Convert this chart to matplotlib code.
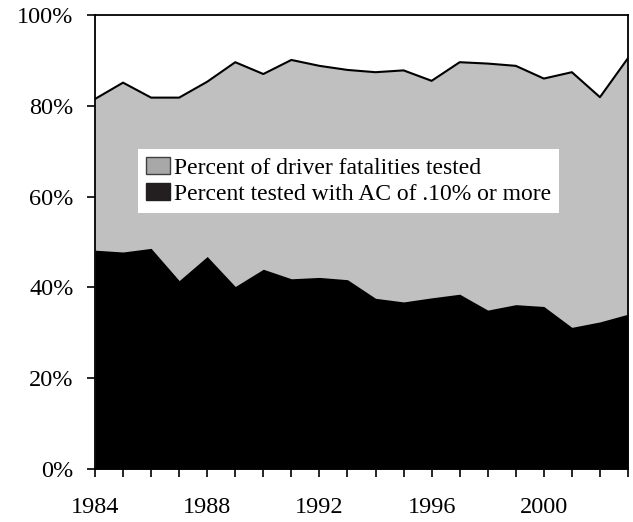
import matplotlib
matplotlib.use("Agg")
import matplotlib.pyplot as plt
from matplotlib.patches import Patch

years = list(range(1984, 2004))
pct_tested = [81.5, 85.1, 81.8, 81.8, 85.3, 89.6, 87.0, 90.1, 88.8, 87.9,
              87.4, 87.8, 85.5, 89.6, 89.3, 88.8, 86.0, 87.4, 81.9, 90.5]
pct_bac10 = [48.2, 47.8, 48.6, 41.5, 46.8, 40.2, 44.0, 41.9, 42.2, 41.7,
             37.6, 36.8, 37.7, 38.5, 35.0, 36.2, 35.8, 31.2, 32.4, 34.1]
label_tested = "Percent of driver fatalities tested"
label_bac = "Percent tested with AC of .10% or more"
yticks = [0, 20, 40, 60, 80, 100]
ytick_labels = ["0%", "20%", "40%", "60%", "80%", "100%"]
xtick_label_years = [1984, 1988, 1992, 1996, 2000]

plt.rcParams['font.family'] = ['Liberation Serif', 'DejaVu Serif']

fig = plt.figure(figsize=(6.33, 5.22), dpi=100)
ax = fig.add_axes([95/633, 1-469/522, 533/633, 454/522])

ax.fill_between(years, 0, pct_tested, color="#c0c0c0", linewidth=0)
ax.plot(years, pct_tested, color="black", linewidth=1.5)
ax.fill_between(years, 0, pct_bac10, color="black", linewidth=0)

ax.set_xlim(years[0], years[-1])
ax.set_ylim(0, 100)
ax.set_yticks(yticks)
ax.set_yticklabels(ytick_labels)
ax.set_xticks(years)
ax.set_xticklabels([str(y) if y in xtick_label_years else "" for y in years])
ax.tick_params(axis='both', direction='out', length=5.5, width=1.2,
               labelsize=17.5, color='black')
ax.tick_params(axis='x', pad=15)
ax.tick_params(axis='y', pad=10)
for s in ax.spines.values():
    s.set_linewidth(1.3)
    s.set_color('black')

handles = [Patch(facecolor="#a8a8a8", edgecolor="#404040", linewidth=1.0),
           Patch(facecolor="#231f20", edgecolor="#231f20", linewidth=1.0)]
leg = ax.legend(handles, [label_tested, label_bac],
                loc='center left', bbox_to_anchor=(0.081, 0.564, 0.789, 0.141),
                mode='expand', fontsize=17, frameon=True, fancybox=False,
                framealpha=1, facecolor='white', edgecolor='none',
                handlelength=1.0, handleheight=0.72, handletextpad=0.17,
                labelspacing=0.2, borderpad=0.35, borderaxespad=0)

fig.savefig("out.png", dpi=100)
